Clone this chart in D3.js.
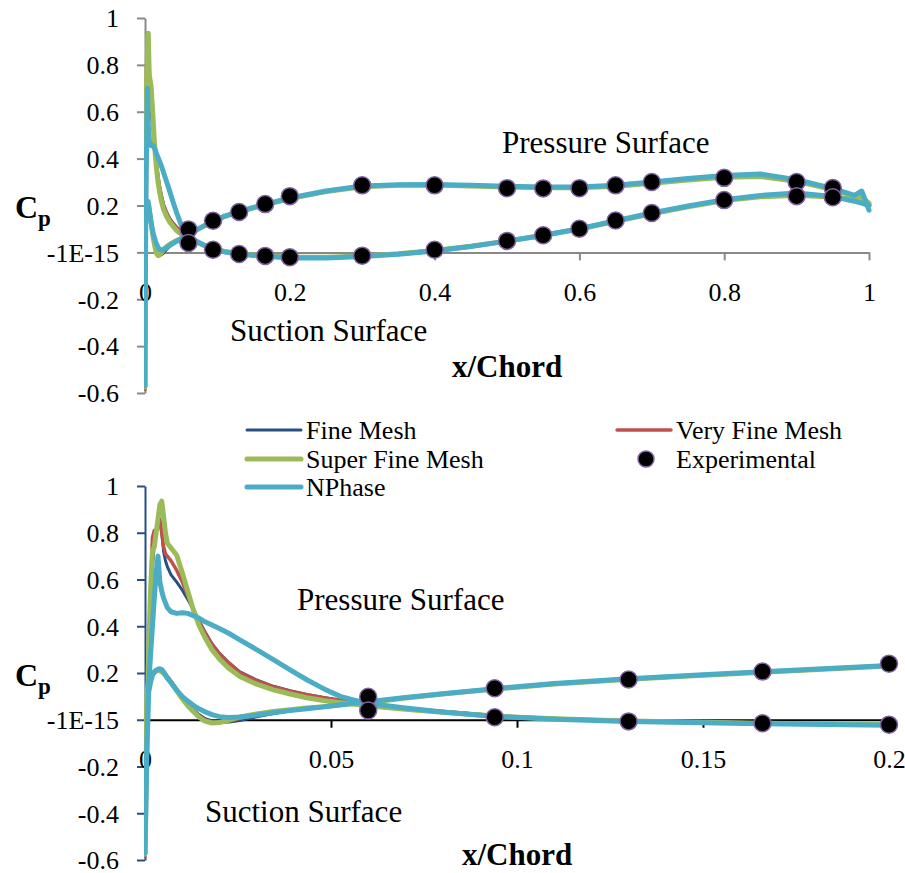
<!DOCTYPE html>
<html>
<head>
<meta charset="utf-8">
<title>Cp distribution</title>
<style>
    body { margin: 0; background: #fff; }
    svg { font-family: "Liberation Serif", "Times New Roman", serif; }
</style>
</head>
<body>
<svg width="905" height="873"></svg>

<script src="https://d3js.org/d3.v7.min.js"></script>
<script>
    // x/Chord stations shared by every surface array (index 0 = leading edge)
    var xStations = [0, 0.0005, 0.001, 0.0015, 0.002, 0.0025, 0.003, 0.0035, 0.004, 0.0045, 0.005, 0.0055, 0.006,
        0.007, 0.0085, 0.01, 0.0115, 0.013, 0.0145, 0.016, 0.018, 0.02, 0.0225,
        0.0255, 0.03, 0.0345, 0.039, 0.0435, 0.048, 0.0525, 0.056, 0.06,
        0.07, 0.08, 0.094, 0.11, 0.13, 0.15, 0.166, 0.2,
        0.25, 0.3, 0.35, 0.4, 0.45, 0.5, 0.55, 0.6, 0.65, 0.7, 0.75, 0.8, 0.85, 0.9, 0.95,
        0.98, 0.99, 1];

    // "a" = branch with the big leading edge peak, "b" = the other branch
    var fineA = [-0.58, -0.12, 0.2, 0.45, 0.65, 0.75, 0.80, 0.84, 0.86, 0.80, 0.72, 0.68, 0.655,
        0.62, 0.59, 0.555, 0.515, 0.47, 0.425, 0.38, 0.325, 0.285, 0.245,
        0.205, 0.17, 0.143, 0.124, 0.108, 0.095, 0.084, 0.076, 0.068,
        0.05, 0.036, 0.018, 0.005, -0.004, -0.01, -0.014, -0.019,
        -0.02, -0.015, -0.005, 0.009, 0.027, 0.049, 0.073, 0.1, 0.133, 0.165, 0.195, 0.221, 0.238, 0.245, 0.237,
        0.224, 0.214, 0.2];
    var fineB = [-0.58, 0.16, 0.17, 0.18, 0.19, 0.198, 0.205, 0.21, 0.212, 0.21, 0.204, 0.196, 0.186,
        0.166, 0.132, 0.098, 0.068, 0.043, 0.022, 0.006, -0.005, -0.01, -0.01,
        -0.003, 0.013, 0.027, 0.038, 0.047, 0.055, 0.063, 0.069, 0.076,
        0.094, 0.11, 0.132, 0.154, 0.174, 0.191, 0.204, 0.231,
        0.261, 0.281, 0.287, 0.288, 0.284, 0.28, 0.277, 0.277, 0.284, 0.297, 0.312, 0.324, 0.329, 0.306, 0.27,
        0.242, 0.24, 0.205];

    var veryFineA = [-0.585, -0.1, 0.25, 0.55, 0.78, 0.81, 0.81, 0.83, 0.85, 0.80, 0.74, 0.71, 0.70,
        0.68, 0.64, 0.59, 0.53, 0.475, 0.42, 0.375, 0.322, 0.282, 0.243,
        0.202, 0.167, 0.141, 0.122, 0.107, 0.094, 0.083, 0.075, 0.067,
        0.049, 0.035, 0.017, 0.005, -0.004, -0.01, -0.014, -0.019,
        -0.02, -0.015, -0.005, 0.009, 0.027, 0.049, 0.073, 0.1, 0.133, 0.165, 0.196, 0.222, 0.239, 0.246, 0.238,
        0.225, 0.215, 0.2];
    var veryFineB = [-0.585, 0.15, 0.18, 0.19, 0.195, 0.2, 0.205, 0.21, 0.213, 0.21, 0.203, 0.195, 0.185,
        0.165, 0.13, 0.095, 0.065, 0.04, 0.018, 0.0, -0.01, -0.012, -0.006,
        0.006, 0.02, 0.032, 0.041, 0.049, 0.056, 0.063, 0.069, 0.076,
        0.094, 0.11, 0.132, 0.154, 0.174, 0.191, 0.204, 0.231,
        0.261, 0.281, 0.287, 0.288, 0.284, 0.28, 0.277, 0.277, 0.283, 0.296, 0.311, 0.323, 0.328, 0.305, 0.27,
        0.242, 0.238, 0.205];

    var superFineA = [-0.575, -0.1, 0.3, 0.55, 0.72, 0.74, 0.80, 0.86, 0.92, 0.935, 0.87, 0.80, 0.755,
        0.735, 0.705, 0.63, 0.55, 0.47, 0.405, 0.355, 0.30, 0.26, 0.22,
        0.185, 0.152, 0.128, 0.11, 0.094, 0.082, 0.073, 0.067, 0.06,
        0.045, 0.032, 0.016, 0.004, -0.005, -0.011, -0.015, -0.02,
        -0.021, -0.016, -0.006, 0.008, 0.026, 0.048, 0.072, 0.1, 0.133, 0.165, 0.195, 0.221, 0.237, 0.244, 0.236,
        0.225, 0.215, 0.2];
    var superFineB = [-0.575, 0.12, 0.16, 0.18, 0.195, 0.205, 0.21, 0.212, 0.21, 0.205, 0.198, 0.19, 0.18,
        0.16, 0.125, 0.09, 0.06, 0.035, 0.012, -0.005, -0.014, -0.012, -0.002,
        0.012, 0.025, 0.035, 0.043, 0.05, 0.056, 0.063, 0.068, 0.074,
        0.093, 0.11, 0.131, 0.153, 0.173, 0.19, 0.203, 0.23,
        0.26, 0.28, 0.286, 0.287, 0.283, 0.279, 0.276, 0.276, 0.282, 0.295, 0.309, 0.32, 0.324, 0.303, 0.268,
        0.24, 0.235, 0.21];

    var nphaseA = [-0.57, -0.1, 0.15, 0.28, 0.40, 0.52, 0.63, 0.70, 0.59, 0.55, 0.52, 0.50, 0.48,
        0.462, 0.455, 0.458, 0.455, 0.445, 0.435, 0.42, 0.405, 0.39, 0.37,
        0.342, 0.30, 0.257, 0.213, 0.171, 0.133, 0.10, 0.085, 0.07,
        0.05, 0.033, 0.014, 0.002, -0.007, -0.013, -0.017, -0.024,
        -0.024, -0.018, -0.008, 0.006, 0.025, 0.048, 0.073, 0.101, 0.135, 0.168, 0.198, 0.225, 0.243, 0.253, 0.238,
        0.218, 0.21, 0.2];
    var nphaseB = [-0.57, -0.15, 0.12, 0.16, 0.19, 0.205, 0.212, 0.216, 0.218, 0.215, 0.205, 0.192, 0.178,
        0.158, 0.127, 0.10, 0.08, 0.062, 0.047, 0.035, 0.022, 0.013, 0.01,
        0.012, 0.02, 0.03, 0.039, 0.047, 0.055, 0.064, 0.07, 0.077,
        0.095, 0.111, 0.133, 0.155, 0.175, 0.192, 0.205, 0.232,
        0.262, 0.283, 0.289, 0.29, 0.286, 0.282, 0.279, 0.279, 0.286, 0.3, 0.315, 0.328, 0.334, 0.31, 0.273,
        0.243, 0.262, 0.18];

    // experimental taps
    var expX = [0.06, 0.094, 0.13, 0.166, 0.2, 0.3, 0.4, 0.5, 0.55, 0.6, 0.65, 0.7, 0.8, 0.9, 0.95];
    var expUpper = [0.098, 0.135, 0.172, 0.206, 0.24, 0.286, 0.286, 0.274, 0.273, 0.274, 0.286, 0.3, 0.318, 0.3, 0.275];
    var expLower = [0.04, 0.011, -0.007, -0.015, -0.021, -0.014, 0.011, 0.049, 0.073, 0.101, 0.136, 0.168, 0.223, 0.24, 0.235];

    var yTicks = [-0.6, -0.4, -0.2, 0, 0.2, 0.4, 0.6, 0.8, 1];
    var yTickLabels = ["-0.6", "-0.4", "-0.2", "-1E-15", "0.2", "0.4", "0.6", "0.8", "1"];
    var xTicksFull = [0, 0.2, 0.4, 0.6, 0.8, 1];
    var xLabelsFull = ["0", "0.2", "0.4", "0.6", "0.8", "1"];
    var xTicksZoom = [0, 0.05, 0.1, 0.15, 0.2];
    var xLabelsZoom = ["0", "0.05", "0.1", "0.15", "0.2"];

    var series = [
        {name: "Fine Mesh", color: "#264f83", width: 3, a: fineA, b: fineB},
        {name: "Very Fine Mesh", color: "#c0504d", width: 3.5, a: veryFineA, b: veryFineB},
        {name: "Super Fine Mesh", color: "#9bbb59", width: 5, a: superFineA, b: superFineB},
        {name: "NPhase", color: "#4bacc6", width: 5, a: nphaseA, b: nphaseB}
    ];
    var markerFill = "#000", markerStroke = "#8064a2";

    var svg = d3.select("svg");

    // one closed trace per series: trailing edge -> leading edge on b, back out on a
    function loop(s) {
        var pts = [];
        for (var i = xStations.length - 1; i >= 1; i--) pts.push([xStations[i], s.b[i]]);
        for (var j = 0; j < xStations.length; j++) pts.push([xStations[j], s.a[j]]);
        return pts;
    }

    function drawChart(cfg) {
        var x = d3.scaleLinear().domain(cfg.xDomain).range(cfg.xRange);
        var y = d3.scaleLinear().domain([-0.6, 1]).range(cfg.yRange);
        var g = svg.append("g");

        g.append("clipPath").attr("id", cfg.id + "-clip")
            .append("rect")
            .attr("x", cfg.xRange[0] - 1)
            .attr("y", cfg.yRange[1] - 4)
            .attr("width", cfg.xRange[1] - cfg.xRange[0] + cfg.clipRight)
            .attr("height", cfg.yRange[0] - cfg.yRange[1] + 8);

        var yAxis = g.append("g")
            .attr("transform", "translate(" + cfg.xRange[0] + ",0)")
            .call(d3.axisLeft(y).tickValues(yTicks)
                .tickFormat(function(d, i) { return yTickLabels[i]; })
                .tickSize(8).tickSizeOuter(0).tickPadding(18));
        yAxis.select(".domain").attr("stroke", cfg.yColor).attr("stroke-width", 2);
        yAxis.selectAll(".tick line").attr("stroke", cfg.yColor).attr("stroke-width", 2);

        var xAxis = g.append("g")
            .attr("transform", "translate(0," + y(0) + ")")
            .call(d3.axisBottom(x).tickValues(cfg.xTicks)
                .tickFormat(function(d, i) { return cfg.xLabels[i]; })
                .tickSize(8).tickSizeOuter(0).tickPadding(22));
        xAxis.select(".domain").attr("stroke", cfg.xColor).attr("stroke-width", 2);
        xAxis.selectAll(".tick line").attr("stroke", cfg.xColor).attr("stroke-width", 2);

        g.selectAll(".tick text")
            .attr("fill", "#000")
            .style("font-family", '"Liberation Serif", "Times New Roman", serif')
            .style("font-size", "26px");
        yAxis.selectAll(".tick text").attr("dy", "0.34em");

        var line = d3.line()
            .x(function(d) { return x(d[0]); })
            .y(function(d) { return y(d[1]); });

        g.append("g").attr("clip-path", "url(#" + cfg.id + "-clip)")
            .selectAll("path")
            .data(series)
            .enter().append("path")
            .attr("d", function(s) { return line(loop(s)); })
            .attr("fill", "none")
            .attr("stroke", function(s) { return s.color; })
            .attr("stroke-width", function(s) { return s.width; })
            .attr("stroke-linejoin", "round")
            .attr("stroke-linecap", "round");

        var pts = [];
        expX.forEach(function(v, i) {
            if (v <= cfg.xDomain[1] + 1e-9) {
                pts.push([v, expUpper[i]]);
                pts.push([v, expLower[i]]);
            }
        });
        g.selectAll("circle.exp")
            .data(pts)
            .enter().append("circle")
            .attr("class", "exp")
            .attr("cx", function(d) { return x(d[0]); })
            .attr("cy", function(d) { return y(d[1]); })
            .attr("r", 8.5)
            .attr("fill", markerFill)
            .attr("stroke", markerStroke)
            .attr("stroke-width", 1.5);

        // axis title and surface notes
        var cp = g.append("text")
            .attr("x", 15).attr("y", y(0) - 34)
            .attr("font-weight", "bold");
        cp.append("tspan").style("font-size", "32px").text("C");
        cp.append("tspan").attr("dy", 8).style("font-size", "23px").text("p");

        g.append("text").attr("x", cfg.pressure[0]).attr("y", cfg.pressure[1])
            .style("font-size", "31px").text("Pressure Surface");
        g.append("text").attr("x", cfg.suction[0]).attr("y", cfg.suction[1])
            .style("font-size", "31px").text("Suction Surface");
        g.append("text").attr("x", cfg.xTitle[0]).attr("y", cfg.xTitle[1])
            .attr("font-weight", "bold")
            .style("font-size", "31px").text("x/Chord");
    }

    drawChart({
        id: "full", xDomain: [0, 1], xRange: [145, 869], yRange: [393, 18],
        xTicks: xTicksFull, xLabels: xLabelsFull, clipRight: 6,
        xColor: "#898989", yColor: "#898989",
        pressure: [502, 153], suction: [230, 341], xTitle: [452, 377]
    });
    drawChart({
        id: "zoom", xDomain: [0, 0.2], xRange: [145, 889], yRange: [860, 486],
        xTicks: xTicksZoom, xLabels: xLabelsZoom, clipRight: 2,
        xColor: "#000", yColor: "#254f82",
        pressure: [297, 610], suction: [205, 822], xTitle: [462, 865]
    });

    // legend
    var legendItems = [
        {s: series[0], x: 247, y: 430},
        {s: series[1], x: 617, y: 430},
        {s: series[2], x: 247, y: 459},
        {s: null, x: 617, y: 459, label: "Experimental"},
        {s: series[3], x: 247, y: 487}
    ];
    var legend = svg.append("g");
    legendItems.forEach(function(it) {
        if (it.s) {
            legend.append("line")
                .attr("x1", it.x).attr("x2", it.x + 54)
                .attr("y1", it.y).attr("y2", it.y)
                .attr("stroke", it.s.color)
                .attr("stroke-width", it.s.width)
                .attr("stroke-linecap", "round");
        } else {
            legend.append("circle")
                .attr("cx", it.x + 29).attr("cy", it.y)
                .attr("r", 8)
                .attr("fill", markerFill)
                .attr("stroke", markerStroke)
                .attr("stroke-width", 1.5);
        }
        legend.append("text")
            .attr("x", it.x + 59).attr("y", it.y + 9)
            .style("font-size", "26px")
            .text(it.s ? it.s.name : it.label);
    });
</script>
</body>
</html>
